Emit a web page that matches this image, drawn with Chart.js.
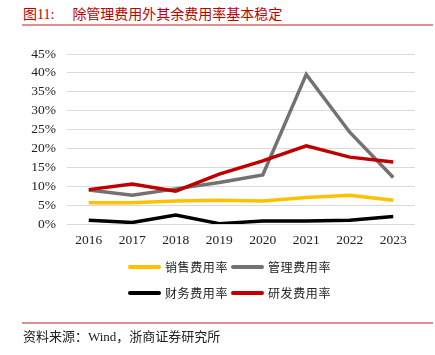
<!DOCTYPE html>
<html><head><meta charset="utf-8">
<script src="https://cdn.jsdelivr.net/npm/chart.js@4/dist/chart.umd.min.js"></script>
<style>
html,body{margin:0;padding:0;background:#fff;}
#wrap{position:relative;width:435px;height:355px;overflow:hidden;font-family:"Liberation Serif","Noto Sans CJK SC",serif;}
#c{position:absolute;left:0;top:0;}
.title{position:absolute;left:23px;top:3px;font-size:14px;color:#c00000;white-space:nowrap;}
.title .t2{margin-left:18px;}
.rule{position:absolute;left:22px;width:411px;height:2px;background:#e48f8f;}
.src{position:absolute;left:23px;top:326px;font-size:13px;color:#222;white-space:nowrap;}
.legend{position:absolute;left:128px;top:258px;width:260px;font-size:12px;color:#222;}
.li{position:absolute;white-space:nowrap;display:flex;align-items:center;}
.li i{display:inline-block;width:33px;height:4px;border-radius:2px;margin-right:4px;}
.li span{letter-spacing:0.6px;}
</style></head>
<body><div id="wrap">
<div class="title">图11:<span class="t2">除管理费用外其余费用率基本稳定</span></div>
<div class="rule" style="top:24px"></div>
<canvas id="c" width="435" height="355"></canvas>
<div class="legend" id="lg"></div>
<div class="rule" style="top:322px"></div>
<div class="src">资料来源：Wind，浙商证券研究所</div>
</div>
<script>
const categories = ["2016","2017","2018","2019","2020","2021","2022","2023"];
const seriesNames = ["销售费用率","管理费用率","财务费用率","研发费用率"];
const seriesColors = ["#ffc000","#767171","#000000","#c00000"];
const salesRate = [5.6, 5.6, 6.1, 6.3, 6.1, 7.0, 7.6, 6.3];
const adminRate = [9.0, 7.6, 9.3, 11.0, 13.0, 39.6, 24.3, 12.3];
const financeRate = [1.0, 0.4, 2.4, 0.1, 0.8, 0.8, 1.0, 2.0];
const rdRate = [9.1, 10.6, 8.7, 13.2, 16.7, 20.7, 17.7, 16.4];
const yTicks = [0,5,10,15,20,25,30,35,40,45];

const values = [salesRate, adminRate, financeRate, rdRate];
const orders = [1, 2, 1, 0];
const datasets = seriesNames.map((n,i)=>({
  label:n, data:values[i], borderColor:seriesColors[i], backgroundColor:seriesColors[i],
  borderWidth:3.5, pointRadius:0, tension:0, fill:false, order:orders[i]
}));

const lg = document.getElementById('lg');
const pos = [[0,0],[103,0],[0,26],[103,26]];
seriesNames.forEach((n,i)=>{
  const d=document.createElement('div'); d.className='li';
  d.style.left=pos[i][0]+'px'; d.style.top=pos[i][1]+'px';
  d.innerHTML='<i style="background:'+seriesColors[i]+'"></i><span>'+n+'</span>';
  lg.appendChild(d);
});

new Chart(document.getElementById('c'), {
  type:'line',
  data:{labels:categories, datasets},
  options:{
    responsive:false, animation:false,
    layout:{padding:{left:0,right:20,top:54,bottom:101}},
    plugins:{legend:{display:false},tooltip:{enabled:false}},
    scales:{
      x:{offset:true, grid:{display:false,drawTicks:false}, border:{display:false},
         ticks:{color:'#222',font:{family:'"Liberation Serif"',size:13.5},padding:8,maxRotation:0,autoSkip:false},
         afterFit:s=>{s.height=30;}},
      y:{min:0,max:45,
         afterBuildTicks:s=>{s.ticks=yTicks.map(v=>({value:v}));},
         grid:{color:'#d9d9d9',lineWidth:1,drawTicks:false}, border:{display:false},
         ticks:{color:'#222',font:{family:'"Liberation Serif"',size:13.5},padding:11,autoSkip:false,
           callback:v=>v+'%'},
         afterFit:s=>{s.width=67;}}
    }
  }
});
</script>
</body></html>
